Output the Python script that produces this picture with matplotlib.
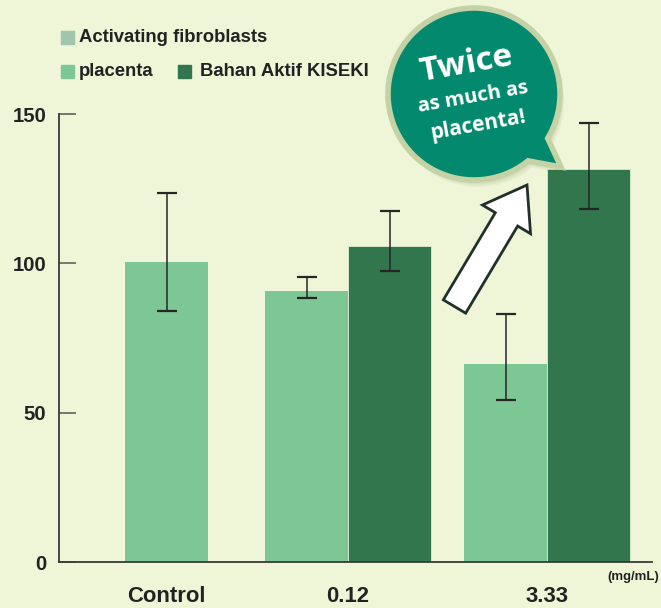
import matplotlib
matplotlib.use("Agg")
import matplotlib.pyplot as plt
import matplotlib.font_manager as fm
from matplotlib.patches import Rectangle, Polygon, FancyArrow
import numpy as np

# data
groups = ["Control", "0.12", "3.33"]
placenta = [100.4, 90.7, 66.3]
placenta_lo = [84.0, 88.4, 54.2]
placenta_hi = [123.6, 95.5, 83.0]
kiseki_groups = ["0.12", "3.33"]
kiseki = [105.8, 131.6]
kiseki_lo = [97.4, 118.3]
kiseki_hi = [117.5, 147.0]
yticks = [0, 50, 100, 150]

bg = "#eef6d7"
c_placenta = "#7dc795"
c_kiseki = "#31764d"
c_activ = "#9fc5ad"
c_teal = "#038a6e"
c_rim = "#c4d2a6"
txt = "#222222"

names = {f.name for f in fm.fontManager.ttflist}
if "Liberation Sans Narrow" in names:
    cond = ["Liberation Sans Narrow", "DejaVu Sans"]
    k = 1.0
else:
    cond = ["Liberation Sans", "DejaVu Sans"]
    k = 0.86
round_font = ["Open Sans", "DejaVu Sans"]

W, H = 661, 608
fig = plt.figure(figsize=(W / 100, H / 100), dpi=100, facecolor=bg)

# main axes, placed in pixel terms
x0, x1, y0, y1 = 58.7, 652, 562, 114
ax = fig.add_axes([x0 / W, (H - y0) / H, (x1 - x0) / W, (y0 - y1) / H])
ax.set_facecolor("none")

group_x = np.array([0.0, 2.187, 4.59])
bw = 1.0
pl_x = group_x + np.array([0, -0.5, -0.5])
ki_x = np.array([group_x[groups.index(g)] + 0.5 for g in kiseki_groups])

ax.bar(pl_x, placenta, width=bw, color=c_placenta, zorder=2)
ax.bar(ki_x, kiseki, width=bw, color=c_kiseki, zorder=2, edgecolor=bg, linewidth=0.5)

err_kw = dict(fmt="none", ecolor="#262626", elinewidth=1.1, capsize=7.5, capthick=1.6, zorder=3)
pl = np.array(placenta)
ax.errorbar(pl_x, pl, yerr=[pl - np.array(placenta_lo), np.array(placenta_hi) - pl], **err_kw)
ki = np.array(kiseki)
ax.errorbar(ki_x, ki, yerr=[ki - np.array(kiseki_lo), np.array(kiseki_hi) - ki], **err_kw)

ax.set_xlim(-1.30, 5.85)
ax.set_ylim(0, 150)
ax.spines[["top", "right"]].set_visible(False)
for s in ["left", "bottom"]:
    ax.spines[s].set_color("#3a3a3a")
    ax.spines[s].set_linewidth(1.3)
ax.set_yticks(yticks)
ax.set_yticklabels([str(v) for v in yticks], family=cond, fontweight="bold",
                   fontsize=17 * k, color=txt)
ax.tick_params(axis="y", direction="in", length=12, width=1.1, color="#555555", pad=9)
ax.set_xticks(group_x)
ax.set_xticklabels(groups, family=cond, fontweight="bold", fontsize=18.5 * k, color=txt)
ax.tick_params(axis="x", length=0, pad=17)

# overlay in pixel coordinates for legend, bubble and arrow
ov = fig.add_axes([0, 0, 1, 1], zorder=5)
ov.set_xlim(0, W)
ov.set_ylim(H, 0)
ov.axis("off")
ov.set_facecolor("none")

ov.text(659, 577, "(mg/mL)", family=cond, fontweight="bold", fontsize=11 * k,
        color=txt, ha="right", va="center")

# legend
leg = [(61, 31, c_activ, "Activating fibroblasts"),
       (61, 65, c_placenta, "placenta"),
       (178, 65, c_kiseki, "Bahan Aktif KISEKI")]
for lx, ly, col, lab in leg:
    ov.add_patch(Rectangle((lx, ly), 13, 13, color=col))
    ov.text(lx + 18 + (4 if lab.startswith("Bahan") else 0), ly + 7, lab, family=cond,
            fontweight="bold", fontsize=15.5 * k, color=txt, va="center", ha="left")

# speech bubble
cx, cy, r = 474, 94, 86
a1, a2 = np.deg2rad(-31), np.deg2rad(-51)
tip = (561, 167)
ang = np.linspace(a1, a2 + 2 * np.pi, 200)
pts = [(cx + r * np.cos(t), cy - r * np.sin(t)) for t in ang]
pts.append(tip)
pts = np.array(pts)
for i, al in enumerate([0.05, 0.05, 0.06, 0.07]):
    off = 7 - i * 1.5
    ov.add_patch(Polygon(pts + np.array([off * 0.6, off]), closed=True, fc="#5b6b3a",
                         ec="none", alpha=al))
ov.add_patch(Polygon(pts, closed=True, fc=c_teal, ec=c_rim, lw=4, joinstyle="miter"))

ov.text(466, 64, "Twice", family=round_font, fontweight="bold", fontsize=24,
        color="white", ha="center", va="center", rotation=10)
ov.text(473, 97, "as much as", family=round_font, fontweight="bold", fontsize=14.5,
        color="white", ha="center", va="center", rotation=10)
ov.text(478, 125, "placenta!", family=round_font, fontweight="bold", fontsize=15,
        color="white", ha="center", va="center", rotation=10)

# block arrow
ov.add_patch(FancyArrow(454.5, 306.5, 72.5, -121.5, width=26, head_width=56,
                        head_length=40, length_includes_head=True,
                        fc="white", ec="#22302a", lw=2))

fig.savefig("out.png", dpi=100, facecolor=bg)
